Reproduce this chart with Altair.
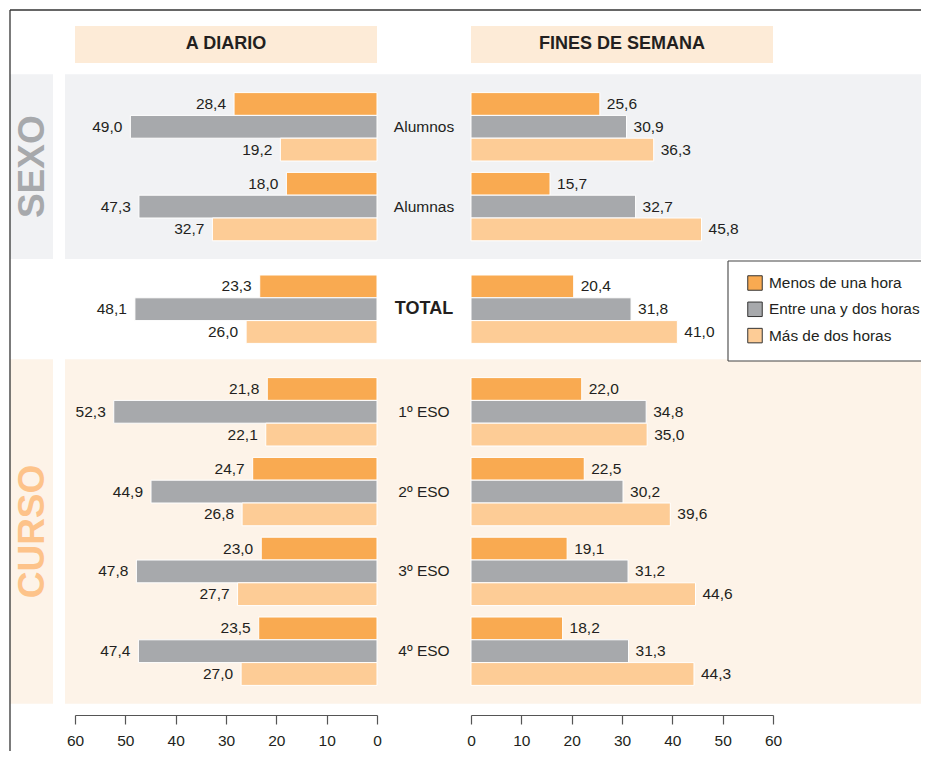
import altair as alt
import pandas as pd

# ---------------- data ----------------
groups = ["Alumnos", "Alumnas", "TOTAL", "1º ESO", "2º ESO", "3º ESO", "4º ESO"]
sections = ["SEXO", "SEXO", "TOTAL", "CURSO", "CURSO", "CURSO", "CURSO"]
series = ["Menos de una hora", "Entre una y dos horas", "Más de dos horas"]

diario_menos = [28.4, 18.0, 23.3, 21.8, 24.7, 23.0, 23.5]
diario_entre = [49.0, 47.3, 48.1, 52.3, 44.9, 47.8, 47.4]
diario_mas = [19.2, 32.7, 26.0, 22.1, 26.8, 27.7, 27.0]

finde_menos = [25.6, 15.7, 20.4, 22.0, 22.5, 19.1, 18.2]
finde_entre = [30.9, 32.7, 31.8, 34.8, 30.2, 31.2, 31.3]
finde_mas = [36.3, 45.8, 41.0, 35.0, 39.6, 44.6, 44.3]

panel_titles = ["A DIARIO", "FINES DE SEMANA"]
x_ticks = [0, 10, 20, 30, 40, 50, 60]

colors = ["#F9AA51", "#A7A9AC", "#FDCC96"]
section_fill = {"SEXO": "#F1F2F4", "CURSO": "#FDF3E8"}
section_text = {"SEXO": "#A7A9AC", "CURSO": "#FDC38A"}

# ---------------- layout ----------------
W, H = 913, 707
PAD_BOTTOM = 36
LEFT_RANGE = [369, 67]
RIGHT_RANGE = [463, 765]
Y_RANGE = [96, 666]
FONT = "Liberation Sans"
TXT = "#231F20"

# slot positions of the bars (one slot per bar, extra space between groups)
starts = []
s = 0.0
prev = None
for sec in sections:
    if prev is not None:
        s += 3.5 if sec == prev else 4.5
    starts.append(s)
    prev = sec
y_max = starts[-1] + len(series) - 1
SLOT_PX = (Y_RANGE[1] - Y_RANGE[0]) / y_max

def px_to_slot(p):
    return (p - Y_RANGE[0]) / SLOT_PX

def fmt(v):
    return f"{v:.1f}".replace(".", ",")

rows = []
diario = [diario_menos, diario_entre, diario_mas]
finde = [finde_menos, finde_entre, finde_mas]
for i, g in enumerate(groups):
    for j, ser in enumerate(series):
        slot = starts[i] + j
        rows.append({
            "grupo": g, "serie": ser, "slot": slot,
            "y0": slot - 0.5, "y1": slot + 0.5,
            "diario": diario[j][i], "finde": finde[j][i],
            "ldiario": fmt(diario[j][i]), "lfinde": fmt(finde[j][i]),
        })
df = pd.DataFrame(rows)

mid = pd.DataFrame({
    "grupo": groups,
    "slot": [st + 1 for st in starts],
    "bold": [g == "TOTAL" for g in groups],
})

MARGIN = 1.3
band_rows = []
for sec in ["SEXO", "CURSO"]:
    idx = [k for k, x in enumerate(sections) if x == sec]
    b0 = starts[idx[0]] - MARGIN
    b1 = starts[idx[-1]] + len(series) - 1 + MARGIN
    band_rows.append({"sec": sec, "b0": b0, "b1": b1, "bc": (b0 + b1) / 2,
                      "fill": section_fill[sec], "tcol": section_text[sec]})
bands = pd.DataFrame(band_rows)

hdr_y0, hdr_y1 = -3.42, -1.80
hdr = pd.DataFrame({"x0": [min(x_ticks)], "x1": [max(x_ticks)],
                    "xc": [(min(x_ticks) + max(x_ticks)) / 2],
                    "y0": [hdr_y0], "y1": [hdr_y1], "yc": [(hdr_y0 + hdr_y1) / 2]})

# legend (drawn with marks)
LEG_X0, LEG_TOP, LEG_BOT = 720, 253, 353
LEG_SYM_X, LEG_TXT_X = 739, 761
LEG_FIRST, LEG_STEP = 275, 26.3
leg = pd.DataFrame({
    "serie": series,
    "slot": [px_to_slot(LEG_FIRST + k * LEG_STEP) for k in range(len(series))],
})
legbox = pd.DataFrame({"t": [px_to_slot(LEG_TOP)], "b": [px_to_slot(LEG_BOT)]})

one = pd.DataFrame({"a": [0]})

yscale = alt.Scale(domain=[0, y_max], range=Y_RANGE, nice=False, zero=False)

def xaxis():
    return alt.Axis(values=x_ticks, orient="bottom", tickSize=9, grid=False, title=None,
                    domainColor="#555555", tickColor="#555555", domainWidth=1.2, tickWidth=1.2,
                    labelFontSize=15.5, labelColor=TXT, labelFont=FONT, labelFlush=False,
                    labelPadding=9, format="d")

color_scale = alt.Scale(domain=series, range=colors)

# ---------------- backgrounds ----------------
bg_main = alt.Chart(bands).mark_rect().encode(
    x=alt.value(57), x2=alt.value(W),
    y=alt.Y("b0:Q", scale=yscale, axis=None), y2="b1:Q",
    fill=alt.Fill("fill:N", scale=None, legend=None),
)
bg_side = alt.Chart(bands).mark_rect().encode(
    x=alt.value(2), x2=alt.value(45),
    y=alt.Y("b0:Q", scale=yscale, axis=None), y2="b1:Q",
    fill=alt.Fill("fill:N", scale=None, legend=None),
)
big_labels = alt.Chart(bands).mark_text(
    angle=270, fontSize=37, fontWeight="bold", font=FONT, align="center", baseline="middle"
).encode(
    x=alt.value(25),
    y=alt.Y("bc:Q", scale=yscale, axis=None),
    text="sec:N",
    fill=alt.Fill("tcol:N", scale=None, legend=None),
)

# ---------------- panels ----------------
def panel(field, lfield, rng, title, side):
    xs = alt.Scale(domain=[min(x_ticks), max(x_ticks)], range=rng, nice=False, zero=False)
    box = alt.Chart(hdr).mark_rect(color="#FDEBD7").encode(
        x=alt.X("x0:Q", scale=xs, axis=xaxis()), x2="x1:Q",
        y=alt.Y("y0:Q", scale=yscale, axis=None), y2="y1:Q",
    )
    htxt = alt.Chart(hdr).mark_text(fontSize=18, fontWeight="bold", font=FONT, color=TXT,
                                    baseline="middle").encode(
        x=alt.X("xc:Q", scale=xs, axis=xaxis()),
        y=alt.Y("yc:Q", scale=yscale, axis=None),
        text=alt.value(title),
    )
    bars = alt.Chart(df).mark_bar(stroke="white", strokeWidth=1).encode(
        x=alt.X(f"{field}:Q", scale=xs, axis=xaxis()), x2=alt.datum(0),
        y=alt.Y("y0:Q", scale=yscale, axis=None), y2="y1:Q",
        color=alt.Color("serie:N", scale=color_scale, legend=None),
    )
    labels = alt.Chart(df).mark_text(
        fontSize=15.5, font=FONT, color=TXT, baseline="middle",
        align="right" if side == "left" else "left",
        dx=-8 if side == "left" else 7,
    ).encode(
        x=alt.X(f"{field}:Q", scale=xs, axis=xaxis()),
        y=alt.Y("slot:Q", scale=yscale, axis=None),
        text=f"{lfield}:N",
    )
    return alt.layer(box, htxt, bars, labels)

left = panel("diario", "ldiario", LEFT_RANGE, panel_titles[0], "left")
right = panel("finde", "lfinde", RIGHT_RANGE, panel_titles[1], "right")

mid_x = (LEFT_RANGE[0] + RIGHT_RANGE[0]) / 2
mid_normal = alt.Chart(mid).transform_filter("!datum.bold").mark_text(
    fontSize=15.5, font=FONT, color=TXT, align="center", baseline="middle"
).encode(x=alt.value(mid_x), y=alt.Y("slot:Q", scale=yscale, axis=None), text="grupo:N")
mid_bold = alt.Chart(mid).transform_filter("datum.bold").mark_text(
    fontSize=18, fontWeight="bold", font=FONT, color=TXT, align="center", baseline="middle"
).encode(x=alt.value(mid_x), y=alt.Y("slot:Q", scale=yscale, axis=None), text="grupo:N")

# ---------------- legend ----------------
leg_bg = alt.Chart(legbox).mark_rect(color="white").encode(
    x=alt.value(LEG_X0), x2=alt.value(W),
    y=alt.Y("t:Q", scale=yscale, axis=None), y2="b:Q",
)
leg_left = alt.Chart(legbox).mark_rule(color="#444444", strokeWidth=1.1).encode(
    x=alt.value(LEG_X0), y=alt.Y("t:Q", scale=yscale, axis=None), y2="b:Q",
)
leg_top = alt.Chart(legbox).mark_rule(color="#444444", strokeWidth=1.1).encode(
    x=alt.value(LEG_X0), x2=alt.value(W), y=alt.Y("t:Q", scale=yscale, axis=None),
)
leg_bot = alt.Chart(legbox).mark_rule(color="#444444", strokeWidth=1.1).encode(
    x=alt.value(LEG_X0), x2=alt.value(W), y=alt.Y("b:Q", scale=yscale, axis=None),
)
leg_sym = alt.Chart(leg).mark_square(size=210, opacity=1, filled=True, stroke="#333333",
                                     strokeWidth=1).encode(
    x=alt.value(LEG_SYM_X + 8), y=alt.Y("slot:Q", scale=yscale, axis=None),
    color=alt.Color("serie:N", scale=color_scale, legend=None),
)
leg_txt = alt.Chart(leg).mark_text(fontSize=15.4, font=FONT, color=TXT, align="left",
                                   baseline="middle").encode(
    x=alt.value(LEG_TXT_X), y=alt.Y("slot:Q", scale=yscale, axis=None), text="serie:N",
)

frame_v = alt.Chart(one).mark_rule(color="#333333", strokeWidth=1.3).encode(
    x=alt.value(2), y=alt.value(2), y2=alt.value(H + PAD_BOTTOM)
)
frame_h = alt.Chart(one).mark_rule(color="#333333", strokeWidth=1.3).encode(
    x=alt.value(2), x2=alt.value(W), y=alt.value(2)
)

chart = alt.layer(
    bg_main, bg_side, big_labels, left, right, mid_normal, mid_bold,
    leg_bg, leg_left, leg_top, leg_bot, leg_sym, leg_txt, frame_v, frame_h
).resolve_scale(x="independent").properties(
    width=W, height=H,
    autosize=alt.AutoSizeParams(type="none"),
    padding={"left": 0, "top": 0, "right": 0, "bottom": PAD_BOTTOM},
).configure(font=FONT).configure_view(strokeWidth=0, stroke="transparent")

chart.save("out.html", embed_options={"renderer": "svg", "actions": False})
